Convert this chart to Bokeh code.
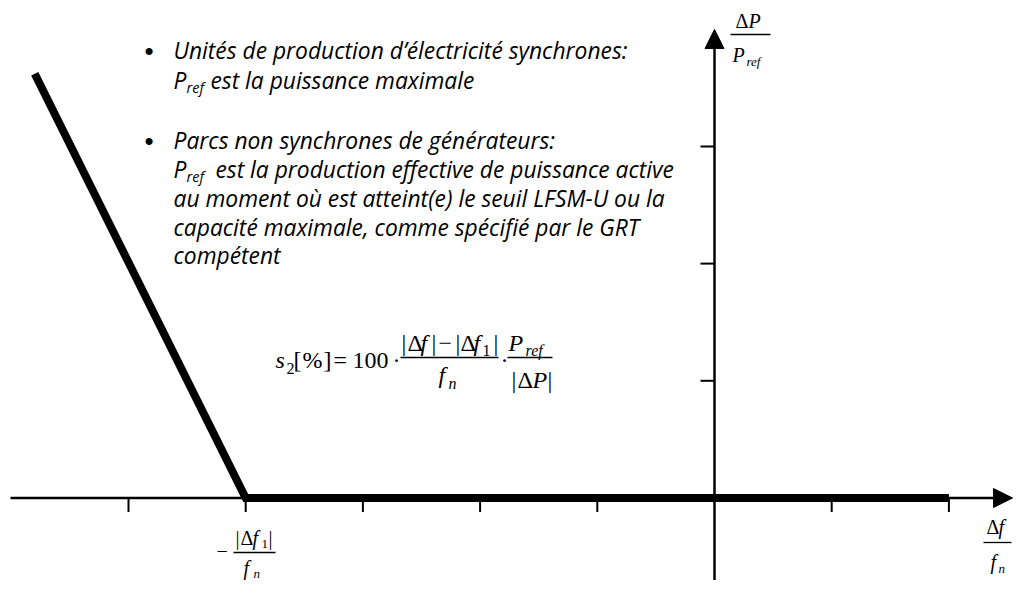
from bokeh.plotting import figure
from bokeh.models import Range1d, Label, Arrow, NormalHead
from bokeh.embed import file_html
from bokeh.resources import INLINE

# ---- data (in axis units: one unit = one tick spacing) ----
curve_x = [-5.8, -4.0, 2.0]
curve_y = [3.62, 0.0, 0.0]
x_ticks = [-5, -4, -3, -2, -1, 1, 2]
y_ticks = [1, 2, 3]

W, H = 1013, 580
X0, Y0, U = 714.0, 497.5, 117.2   # canvas pixel of origin and pixels per unit


def dx(X):
    return (X - X0) / U


def dy(Y):
    return (Y0 - Y) / U


p = figure(width=W, height=H,
           x_range=Range1d(dx(0), dx(W)), y_range=Range1d(dy(H), dy(0)),
           output_backend="svg", toolbar_location=None, min_border=0,
           x_axis_location=None, y_axis_location=None)
p.grid.visible = False
p.outline_line_color = None
p.background_fill_color = "white"
p.border_fill_color = "white"

# ---- axes with arrowheads ----
p.add_layout(Arrow(end=NormalHead(size=19, fill_color="black", line_color="black", line_width=1),
                   x_start=dx(10), y_start=0, x_end=dx(1012), y_end=0,
                   line_width=2.5, line_color="black"))
p.add_layout(Arrow(end=NormalHead(size=19, fill_color="black", line_color="black", line_width=1),
                   x_start=0, y_start=dy(585), x_end=0, y_end=dy(29),
                   line_width=2.5, line_color="black"))

tick_len = 14 / U
p.segment(x0=x_ticks, y0=[0] * len(x_ticks), x1=x_ticks, y1=[-tick_len] * len(x_ticks),
          line_width=2, line_color="black")
p.segment(x0=[-tick_len] * len(y_ticks), y0=y_ticks, x1=[0] * len(y_ticks), y1=y_ticks,
          line_width=2, line_color="black")

# ---- characteristic ----
p.line(curve_x, curve_y, line_width=8, line_color="black", line_join="miter", line_cap="butt")

SERIF = "Liberation Serif"
SANS = "Open Sans"
BULLET_FONT = "Liberation Sans"


# ---- text helpers (Yb = desired baseline in canvas pixels) ----
def lab(text, X, Yb, size, font=SERIF, style="normal"):
    k = 0.37 if font == SANS else 0.34
    p.add_layout(Label(x=dx(X), y=dy(Yb - k * size), text=text, text_font=font,
                       text_font_size=f"{size}px", text_font_style=style,
                       text_align="left", text_baseline="alphabetic", text_color="black"))


def bar(Xa, Xb, Y, w=1.3):
    p.segment(x0=[dx(Xa)], y0=[dy(Y)], x1=[dx(Xb)], y1=[dy(Y)], line_width=w, line_color="black")


# ---- bullet text ----
BS, SS = 22.8, 14.5
lab("•", 144, 59, 26, BULLET_FONT)
lab("Unités de production d’électricité synchrones:", 173, 58, BS, SANS, "italic")
lab("P", 173, 88, BS, SANS, "italic")
lab("ref", 186, 92, SS, SANS, "italic")
lab("est la puissance maximale", 210, 88, BS, SANS, "italic")
lab("•", 144, 149, 26, BULLET_FONT)
lab("Parcs non synchrones de générateurs:", 173, 148, BS, SANS, "italic")
lab("P", 173, 177, BS, SANS, "italic")
lab("ref", 186, 181, SS, SANS, "italic")
lab("est la production effective de puissance active", 215, 177, BS, SANS, "italic")
lab("au moment où est atteint(e) le seuil LFSM-U ou la", 173, 206, BS, SANS, "italic")
lab("capacité maximale, comme spécifié par le GRT", 173, 235, BS, SANS, "italic")
lab("compétent", 173, 263, BS, SANS, "italic")

# ---- formula ----
FS, FSS = 24, 16
lab("s", 275, 368, FS, style="italic")
lab("2", 286, 373, FSS)
lab("[", 293, 368, FS)
lab("%", 302, 368, FS)
lab("]", 323, 368, FS)
lab("=", 333, 368, FS)
lab("100", 352, 368, FS)
lab("·", 392, 368, FS)
lab("|", 401, 351, FS)
lab("Δ", 407, 351, FS)
lab("f", 420, 351, FS, style="italic")
lab("|", 431, 351, FS)
lab("−", 438, 351, FS)
lab("|", 455, 351, FS)
lab("Δ", 460, 351, FS)
lab("f", 473, 351, FS, style="italic")
lab("1", 482, 355, FSS)
lab("|", 493, 351, FS)
bar(400, 498, 357)
lab("f", 438, 383, FS, style="italic")
lab("n", 448, 388, FSS, style="italic")
lab("·", 500, 368, FS)
lab("P", 508, 351, FS, style="italic")
lab("ref", 525, 355, FSS, style="italic")
bar(507, 552, 357)
lab("|", 511, 388, FS)
lab("Δ", 517, 388, FS)
lab("P", 532, 388, FS, style="italic")
lab("|", 547, 388, FS)

# ---- axis labels ----
AS, ASS = 20, 13
lab("Δ", 735, 27, AS)
lab("P", 748, 27, AS, style="italic")
bar(730, 770, 34)
lab("P", 732, 61, AS, style="italic")
lab("ref", 746, 65, ASS, style="italic")

lab("Δ", 986, 533, AS)
lab("f", 998, 533, AS, style="italic")
bar(983, 1011, 542)
lab("f", 990, 568, AS, style="italic")
lab("n", 998, 572, ASS, style="italic")

lab("−", 216, 557, AS)
lab("|", 235, 544, AS)
lab("Δ", 240, 544, AS)
lab("f", 252, 544, AS, style="italic")
lab("1", 261, 548, ASS)
lab("|", 268, 544, AS)
bar(233, 275, 552)
lab("f", 243, 574, AS, style="italic")
lab("n", 253, 577, ASS, style="italic")

open("out.html", "w").write(file_html(p, INLINE))
